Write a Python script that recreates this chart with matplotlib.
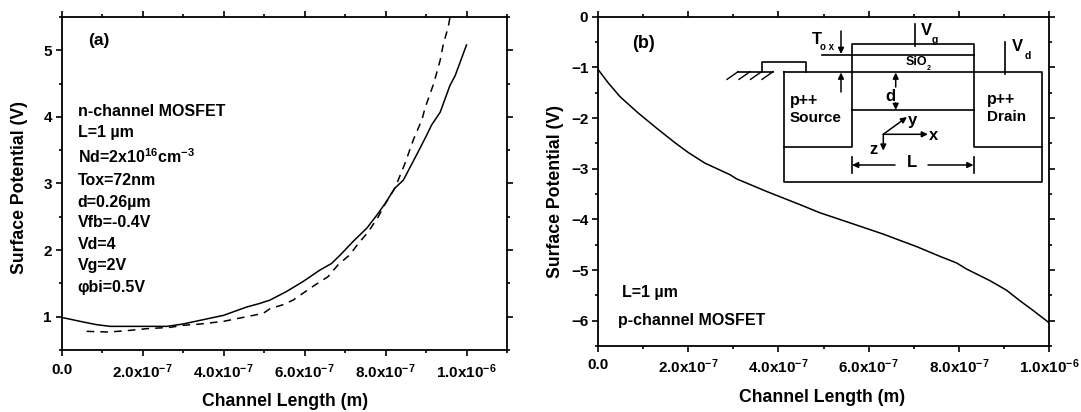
import matplotlib
matplotlib.use('Agg')
import matplotlib.pyplot as plt
from matplotlib.ticker import MultipleLocator, FixedLocator

plt.rcParams['font.family'] = ['Liberation Sans', 'DejaVu Sans']
plt.rcParams['font.weight'] = 'bold'
plt.rcParams['mathtext.fontset'] = 'custom'
plt.rcParams['mathtext.rm'] = 'Liberation Sans:bold'
plt.rcParams['mathtext.bf'] = 'Liberation Sans:bold'
plt.rcParams['mathtext.it'] = 'Liberation Sans:bold'
plt.rcParams['mathtext.default'] = 'rm'

# panel a, x in units of 1e-7 m
a_solid_x = [0, 0.54, 0.87, 1.2, 2.6, 3.0, 3.42, 4.0, 4.57, 4.9, 5.15, 5.56, 5.97, 6.38, 6.67, 6.92,
             7.2, 7.54, 7.78, 7.99, 8.23, 8.44, 8.81, 9.02, 9.14, 9.35, 9.59, 9.72, 10.0]
a_solid_y = [0.99, 0.92, 0.88, 0.855, 0.855, 0.89, 0.945, 1.02, 1.145, 1.2, 1.25, 1.38, 1.53, 1.70, 1.80, 1.95,
             2.13, 2.33, 2.52, 2.70, 2.93, 3.05, 3.48, 3.73, 3.88, 4.07, 4.47, 4.62, 5.08]
a_dash_x = [0.62, 1.15, 1.61, 2.1, 2.68, 3.0, 3.42, 4.0, 4.57, 4.98, 5.15, 5.47, 5.72, 6.22, 6.58, 6.83,
            7.12, 7.33, 7.57, 7.82, 8.0, 8.24, 8.48, 8.69, 8.9, 8.98, 9.19, 9.35, 9.43, 9.55, 9.59]
a_dash_y = [0.78, 0.77, 0.79, 0.82, 0.84, 0.87, 0.89, 0.93, 1.0, 1.05, 1.12, 1.18, 1.25, 1.46, 1.6, 1.78,
            1.93, 2.1, 2.27, 2.5, 2.7, 2.94, 3.3, 3.66, 3.96, 4.14, 4.5, 4.85, 5.1, 5.35, 5.49]

# panel b
b_x = [0, 0.23, 0.49, 0.89, 1.3, 1.71, 2.0, 2.37, 2.93, 3.07, 3.74, 4.48, 4.92, 5.59, 6.32, 7.07,
       7.58, 7.95, 8.17, 8.69, 9.06, 9.36, 9.65, 10.0]
b_y = [-1.04, -1.31, -1.58, -1.90, -2.2, -2.49, -2.68, -2.89, -3.12, -3.2, -3.45, -3.71, -3.87, -4.07, -4.29, -4.54,
       -4.73, -4.86, -4.98, -5.21, -5.40, -5.61, -5.8, -6.04]

x_ticks = [0, 2e-7, 4e-7, 6e-7, 8e-7, 1e-6]
x_labels = ['0.0', '$2.0x10^{-7}$', '$4.0x10^{-7}$', '$6.0x10^{-7}$', '$8.0x10^{-7}$', '$1.0x10^{-6}$']

a_notes = ['n-channel MOSFET', 'L=1 µm', 'Nd=2x10$^{16}$cm$^{-3}$', 'Tox=72nm', 'd=0.26µm',
           'Vfb=-0.4V', 'Vd=4', 'Vg=2V', 'φbi=0.5V']
a_notes_y = [111.7, 133, 156.7, 180, 202, 222.7, 244, 265.7, 287.3]

W, H = 1081, 412
fig = plt.figure(figsize=(W / 100, H / 100), dpi=100)


def make_axes(left, right, top, bottom, xpad):
    ax = fig.add_axes([left / W, 1 - bottom / H, (right - left) / W, (bottom - top) / H])
    for s in ax.spines.values():
        s.set_linewidth(1.3)
    ax.tick_params(which='major', length=4, width=1.2, top=True, right=True, direction='out', labelsize=11)
    ax.tick_params(which='minor', length=2.5, width=1.2, top=True, right=True, direction='out')
    ax.tick_params(axis='x', which='major', pad=xpad)
    ax.tick_params(axis='y', which='major', pad=3)
    ax.set_xticks(x_ticks)
    ax.set_xticklabels(x_labels)
    ax.yaxis.set_major_locator(MultipleLocator(1))
    ax.yaxis.set_minor_locator(MultipleLocator(0.5))
    return ax


ax1 = make_axes(61.5, 507, 17, 350, 5)
ax1.set_xlim(0, 1.1e-6)
ax1.set_ylim(0.5, 5.5)
ax1.xaxis.set_minor_locator(FixedLocator([1e-7, 3e-7, 5e-7, 7e-7, 9e-7, 1.1e-6]))
ax1.plot([v * 1e-7 for v in a_solid_x], a_solid_y, color='black', lw=1.1)
ax1.plot([v * 1e-7 for v in a_dash_x], a_dash_y, color='black', lw=1.1, dashes=(5, 4))

ax2 = make_axes(598, 1049, 16.7, 346, 4.5)
ax2.set_xlim(0, 1e-6)
ax2.set_ylim(-6.5, 0)
ax2.xaxis.set_minor_locator(FixedLocator([1e-7, 3e-7, 5e-7, 7e-7, 9e-7]))
ax2.plot([v * 1e-7 for v in b_x], b_y, color='black', lw=1.1)

# overlay in pixels for the notes and the device sketch
ov = fig.add_axes([0, 0, 1, 1])
ov.set_xlim(0, W)
ov.set_ylim(H, 0)
ov.axis('off')


def label(x, y, s, size=11.5, ha='left', weight='bold', rot=0):
    ov.text(x, y, s, fontsize=size, ha=ha, va='center', fontweight=weight, rotation=rot)


def line(xs, ys, lw=1.2):
    ov.plot(xs, ys, color='black', lw=lw, solid_capstyle='projecting')


def arrow(x0, y0, x1, y1):
    ov.annotate('', xy=(x1, y1), xytext=(x0, y0),
                arrowprops=dict(arrowstyle='-|>,head_length=0.35,head_width=0.17', color='black',
                                lw=1.1, shrinkA=0, shrinkB=0))


label(285.5, 401, 'Channel Length (m)', size=12.7, ha='center')
label(822, 397, 'Channel Length (m)', size=12.7, ha='center')
label(20, 188, 'Surface Potential (V)', size=12.7, ha='center', rot=90)
label(555, 192, 'Surface Potential (V)', size=12.7, ha='center', rot=90)

label(88, 40, '(a)', size=12.5)
for yy, s in zip(a_notes_y, a_notes):
    label(77.7, yy, s)
label(632, 43, '(b)', size=13)
label(622.3, 292, 'L=1 µm')
label(618.3, 320.7, 'p-channel MOSFET')

# device sketch
line([784.3, 1041.7, 1041.7, 784.3, 784.3], [71.7, 71.7, 181.7, 181.7, 71.7])
line([784.3, 851.7, 851.7, 974, 974, 1041.7], [146.7, 146.7, 44, 44, 146.7, 146.7])
line([821.7, 974], [55, 55])
line([851.7, 974], [110, 110])
line([915.3, 915.3], [23.7, 46])
line([1005, 1005], [42, 74])
line([761.7, 761.7, 806, 806], [71.7, 62.3, 62.3, 71.7])
line([738, 773], [71.7, 71.7])
for hx in [738, 750, 761.5, 773]:
    line([hx, hx - 11], [71.7, 79.4], lw=1)
arrow(841, 31, 841, 54)
arrow(841, 92, 841, 72.5)
arrow(895.7, 87, 895.7, 72.5)
arrow(895.7, 103, 895.7, 110)
arrow(883.3, 134.3, 907, 117)
arrow(883.3, 134.3, 928, 134.3)
arrow(883.3, 134.3, 883.3, 150.7)
line([851.7, 851.7], [157, 172.7])
line([974, 974], [157, 172.7])
arrow(895, 165, 852, 165)
arrow(928, 165, 973.5, 165)

label(816.7, 39, 'T', size=12, ha='center')
label(826.7, 46.7, 'o x', size=7, ha='center')
label(926, 30.7, 'V', size=12, ha='center')
label(935, 40, 'g', size=7.5, ha='center')
label(1017.7, 46.7, 'V', size=12, ha='center')
label(1027.7, 56, 'd', size=7.5, ha='center')
label(916.7, 62, 'SiO', size=9, ha='center')
label(929, 68, '2', size=5, ha='center')
label(890.7, 96.7, 'd', size=12, ha='center')
label(790, 100, 'p++', size=11.5)
label(790, 118, 'Source', size=11)
label(987.3, 99, 'p++', size=11.5)
label(987.3, 117, 'Drain', size=11)
label(912.7, 120.7, 'y', size=12, ha='center')
label(934, 135, 'x', size=12, ha='center')
label(874, 149.3, 'z', size=12, ha='center')
label(911.7, 162, 'L', size=12, ha='center')

fig.savefig('out.png', dpi=100)
